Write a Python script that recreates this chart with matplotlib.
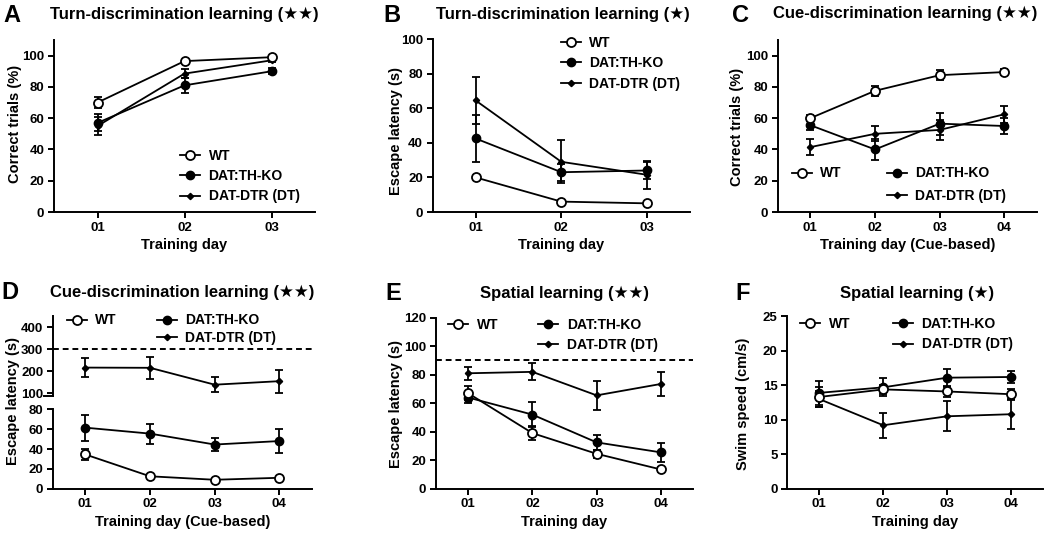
import matplotlib
matplotlib.use('Agg')
import matplotlib.pyplot as plt
from matplotlib.lines import Line2D

plt.rcParams['font.family'] = ['Liberation Sans', 'DejaVu Sans']
plt.rcParams['font.weight'] = 'bold'
plt.rcParams['axes.labelweight'] = 'bold'

W, H = 1050, 534

# ---- data ----
days3 = [1, 2, 3]
days4 = [1, 2, 3, 4]
day_labels3 = ['01', '02', '03']
day_labels4 = ['01', '02', '03', '04']
group_names = ['WT', 'DAT:TH-KO', 'DAT-DTR (DT)']

# A: turn-discrimination, correct trials (%)
a_wt = [70, 96.5, 99]
a_wt_err = [3.5, 1, 1]
a_ko = [57, 81, 90]
a_ko_err = [5.5, 5, 2]
a_dt = [55, 88.5, 97]
a_dt_err = [6, 3, 1]

# B: turn-discrimination, escape latency (s)
b_wt = [20, 6, 5]
b_wt_err = [1, 1, 1]
b_ko = [42.5, 23, 24]
b_ko_err = [13.5, 5, 5]
b_dt = [64.5, 29, 21.5]
b_dt_err = [13.5, 12.5, 8]

# C: cue-discrimination, correct trials (%)
c_wt = [60, 77.5, 87.5, 89.5]
c_wt_err = [2, 3, 3, 2]
c_ko = [55.5, 40, 56.5, 55]
c_ko_err = [3, 6.5, 7, 5]
c_dt = [41.5, 50, 52.5, 62.5]
c_dt_err = [5, 4.7, 6.5, 5.3]

# D: cue-discrimination, escape latency (s), broken axis
d_wt = [34.5, 12.5, 9, 11]
d_wt_err = [6, 1, 1, 1]
d_ko = [61.5, 55.5, 44.5, 48]
d_ko_err = [13, 10, 7, 12]
d_dt = [216, 215, 138, 154]
d_dt_err = [42, 50, 35, 53]
d_cutoff = 300

# E: spatial learning, escape latency (s)
e_wt = [67, 39, 24.5, 13.5]
e_wt_err = [5, 5, 3, 1.5]
e_ko = [64, 52, 32.5, 25.5]
e_ko_err = [4, 8.5, 5.5, 6.5]
e_dt = [81, 82, 65.5, 73.5]
e_dt_err = [4.5, 6, 10, 8.5]
e_cutoff = 90

# F: spatial learning, swim speed (cm/s)
f_wt = [13.3, 14.4, 14.1, 13.7]
f_wt_err = [1.5, 0.7, 0.8, 0.8]
f_ko = [13.9, 14.7, 16.1, 16.2]
f_ko_err = [1.7, 1.3, 1.3, 0.9]
f_dt = [13.0, 9.2, 10.5, 10.8]
f_dt_err = [1.1, 1.8, 2.2, 2.2]

# marker styles per group
styles = [
    dict(marker='o', ms=6.5, mfc='white', mec='black', mew=1.3, zorder=5),
    dict(marker='o', ms=6, mfc='black', mec='black', mew=1, zorder=4),
    dict(marker='D', ms=3.2, mfc='black', mec='black', mew=1, zorder=3),
]


def px_axes(fig, left, top, right, bottom):
    return fig.add_axes([left / W, 1 - bottom / H, (right - left) / W, (bottom - top) / H])


def style_axis(ax):
    for s in ['top', 'right']:
        ax.spines[s].set_visible(False)
    for s in ['left', 'bottom']:
        ax.spines[s].set_linewidth(1.4)
    ax.tick_params(direction='out', length=4.5, width=1.4, labelsize=9.5, pad=2.5)


def plot_groups(ax, days, values, errors):
    lines = []
    for vals, errs, st, name in zip(values, errors, styles, group_names):
        ax.errorbar(days, vals, yerr=errs, fmt='none', ecolor='black',
                    elinewidth=1.3, capsize=3, capthick=1.3, zorder=st['zorder'] - 0.5,
                    clip_on=False)
        ln, = ax.plot(days, vals, color='black', lw=1.3, label=name, clip_on=False, **st)
        lines.append(ln)
    return lines


def legend_one_col(ax, lines, x, y, spacing):
    ax.legend(lines, group_names, loc='upper left', bbox_to_anchor=(x, y),
              frameon=False, fontsize=10, handlelength=1.45, handletextpad=0.6,
              borderpad=0, borderaxespad=0, labelspacing=spacing)


def legend_two_col(ax, lines, x, y, spacing, colsp=2.9):
    blank = Line2D([], [], alpha=0)
    ax.legend([lines[0], blank, lines[1], lines[2]], [group_names[0], '', group_names[1], group_names[2]],
              loc='upper left', bbox_to_anchor=(x, y), ncol=2,
              frameon=False, fontsize=10, handlelength=1.45, handletextpad=0.6,
              borderpad=0, borderaxespad=0, labelspacing=spacing, columnspacing=colsp)


def set_days(ax, days, labels):
    ax.set_xticks(days)
    ax.set_xticklabels(labels)
    ax.set_xlim(0.5, len(days) + 0.5)


def add_title(fig, letter, title, lx, ly, cx, cy):
    fig.text(lx / W, 1 - ly / H, letter, fontsize=17, fontweight='bold', va='baseline', ha='left')
    fig.text(cx / W, 1 - cy / H, title, fontsize=12, fontweight='bold', va='baseline', ha='center')


fig = plt.figure(figsize=(W / 100, H / 100), dpi=100)

# ---- A ----
ax = px_axes(fig, 54, 40, 315, 212)
style_axis(ax)
lines = plot_groups(ax, days3, [a_wt, a_ko, a_dt], [a_wt_err, a_ko_err, a_dt_err])
set_days(ax, days3, day_labels3)
ax.set_ylim(0, 110)
ax.set_yticks(range(0, 101, 20))
ax.set_xlabel('Training day', fontsize=10.5, labelpad=3)
ax.set_ylabel('Correct trials (%)', fontsize=10.5)
ax.yaxis.set_label_coords(-0.123, 0.51)
legend_one_col(ax, lines, 0.483, 0.367, 0.45)
add_title(fig, 'A', 'Turn-discrimination learning (\u2605\u2605)', 3, 22, 184.5, 18.5)

# ---- B ----
ax = px_axes(fig, 432.7, 39, 690, 212)
style_axis(ax)
lines = plot_groups(ax, days3, [b_wt, b_ko, b_dt], [b_wt_err, b_ko_err, b_dt_err])
set_days(ax, days3, day_labels3)
ax.set_ylim(0, 100)
ax.set_yticks(range(0, 101, 20))
ax.set_xlabel('Training day', fontsize=10.5, labelpad=3)
ax.set_ylabel('Escape latency (s)', fontsize=10.5)
ax.yaxis.set_label_coords(-0.115, 0.47)
legend_one_col(ax, lines, 0.497, 1.017, 0.45)
add_title(fig, 'B', 'Turn-discrimination learning (\u2605)', 383, 22, 563, 18.5)

# ---- C ----
ax = px_axes(fig, 778, 40, 1036.7, 212)
style_axis(ax)
lines = plot_groups(ax, days4, [c_wt, c_ko, c_dt], [c_wt_err, c_ko_err, c_dt_err])
set_days(ax, days4, day_labels4)
ax.set_ylim(0, 110)
ax.set_yticks(range(0, 101, 20))
ax.set_xlabel('Training day (Cue-based)', fontsize=10.5, labelpad=3)
ax.set_ylabel('Correct trials (%)', fontsize=10.5)
ax.yaxis.set_label_coords(-0.131, 0.497)
legend_two_col(ax, lines, 0.053, 0.265, 0.6, 3.25)
add_title(fig, 'C', 'Cue-discrimination learning (\u2605\u2605)', 732, 22, 905, 18)

# ---- D (broken y axis) ----
ax_hi = px_axes(fig, 53, 316.3, 311.7, 396.3)
ax_lo = px_axes(fig, 53, 409.3, 311.7, 488.7)
for a in (ax_hi, ax_lo):
    style_axis(a)
    set_days(a, days4, day_labels4)
ax_hi.spines['bottom'].set_visible(False)
ax_hi.tick_params(axis='x', bottom=False, labelbottom=False)
ax_hi.set_ylim(85, 450)
ax_hi.set_yticks([100, 200, 300, 400])
ax_lo.set_ylim(0, 80)
ax_lo.set_yticks(range(0, 81, 20))
ax_hi.axhline(d_cutoff, color='black', lw=1.4, ls=(0, (3, 2)))
ax_lo.errorbar(days4, d_wt, yerr=d_wt_err, fmt='none', ecolor='black', elinewidth=1.3,
               capsize=3, capthick=1.3, zorder=4.5)
ln_wt, = ax_lo.plot(days4, d_wt, color='black', lw=1.3, **styles[0])
ax_lo.errorbar(days4, d_ko, yerr=d_ko_err, fmt='none', ecolor='black', elinewidth=1.3,
               capsize=3, capthick=1.3, zorder=3.5)
ln_ko, = ax_lo.plot(days4, d_ko, color='black', lw=1.3, **styles[1])
ax_hi.errorbar(days4, d_dt, yerr=d_dt_err, fmt='none', ecolor='black', elinewidth=1.3,
               capsize=3, capthick=1.3, zorder=2.5)
ln_dt, = ax_hi.plot(days4, d_dt, color='black', lw=1.3, **styles[2])
# small break mark at the bottom of the upper segment
ax_hi.plot([-0.035, 0.0], [0.0, 0.0], transform=ax_hi.transAxes, color='black', lw=1.4, clip_on=False)
ax_lo.set_xlabel('Training day (Cue-based)', fontsize=10.5, labelpad=3)
fig.text(13 / W, 1 - 401 / H, 'Escape latency (s)', rotation=90, fontsize=10.5,
         fontweight='bold', ha='center', va='center')
legend_two_col(ax_hi, [ln_wt, ln_ko, ln_dt], 0.053, 1.035, 0.25)
add_title(fig, 'D', 'Cue-discrimination learning (\u2605\u2605)', 1, 299, 182, 296.5)

# ---- E ----
ax = px_axes(fig, 436, 317.7, 693, 488.7)
style_axis(ax)
lines = plot_groups(ax, days4, [e_wt, e_ko, e_dt], [e_wt_err, e_ko_err, e_dt_err])
set_days(ax, days4, day_labels4)
ax.set_ylim(0, 120)
ax.set_yticks(range(0, 121, 20))
ax.axhline(e_cutoff, color='black', lw=1.4, ls=(0, (3, 2)), zorder=1)
ax.set_xlabel('Training day', fontsize=10.5, labelpad=3)
ax.set_ylabel('Escape latency (s)', fontsize=10.5)
ax.yaxis.set_label_coords(-0.128, 0.497)
legend_two_col(ax, lines, 0.047, 1.0, 0.45)
add_title(fig, 'E', 'Spatial learning (\u2605\u2605)', 385, 300, 564.5, 298)

# ---- F ----
ax = px_axes(fig, 787.3, 316.3, 1043, 488.7)
style_axis(ax)
lines = plot_groups(ax, days4, [f_wt, f_ko, f_dt], [f_wt_err, f_ko_err, f_dt_err])
set_days(ax, days4, day_labels4)
ax.set_ylim(0, 25)
ax.set_yticks(range(0, 26, 5))
ax.set_xlabel('Training day', fontsize=10.5, labelpad=3)
ax.set_ylabel('Swim speed (cm/s)', fontsize=10.5)
ax.yaxis.set_label_coords(-0.146, 0.494)
legend_two_col(ax, lines, 0.05, 0.995, 0.45, 3.1)
add_title(fig, 'F', 'Spatial learning (\u2605)', 735, 300, 917, 298)

fig.savefig('out.png', dpi=100)
